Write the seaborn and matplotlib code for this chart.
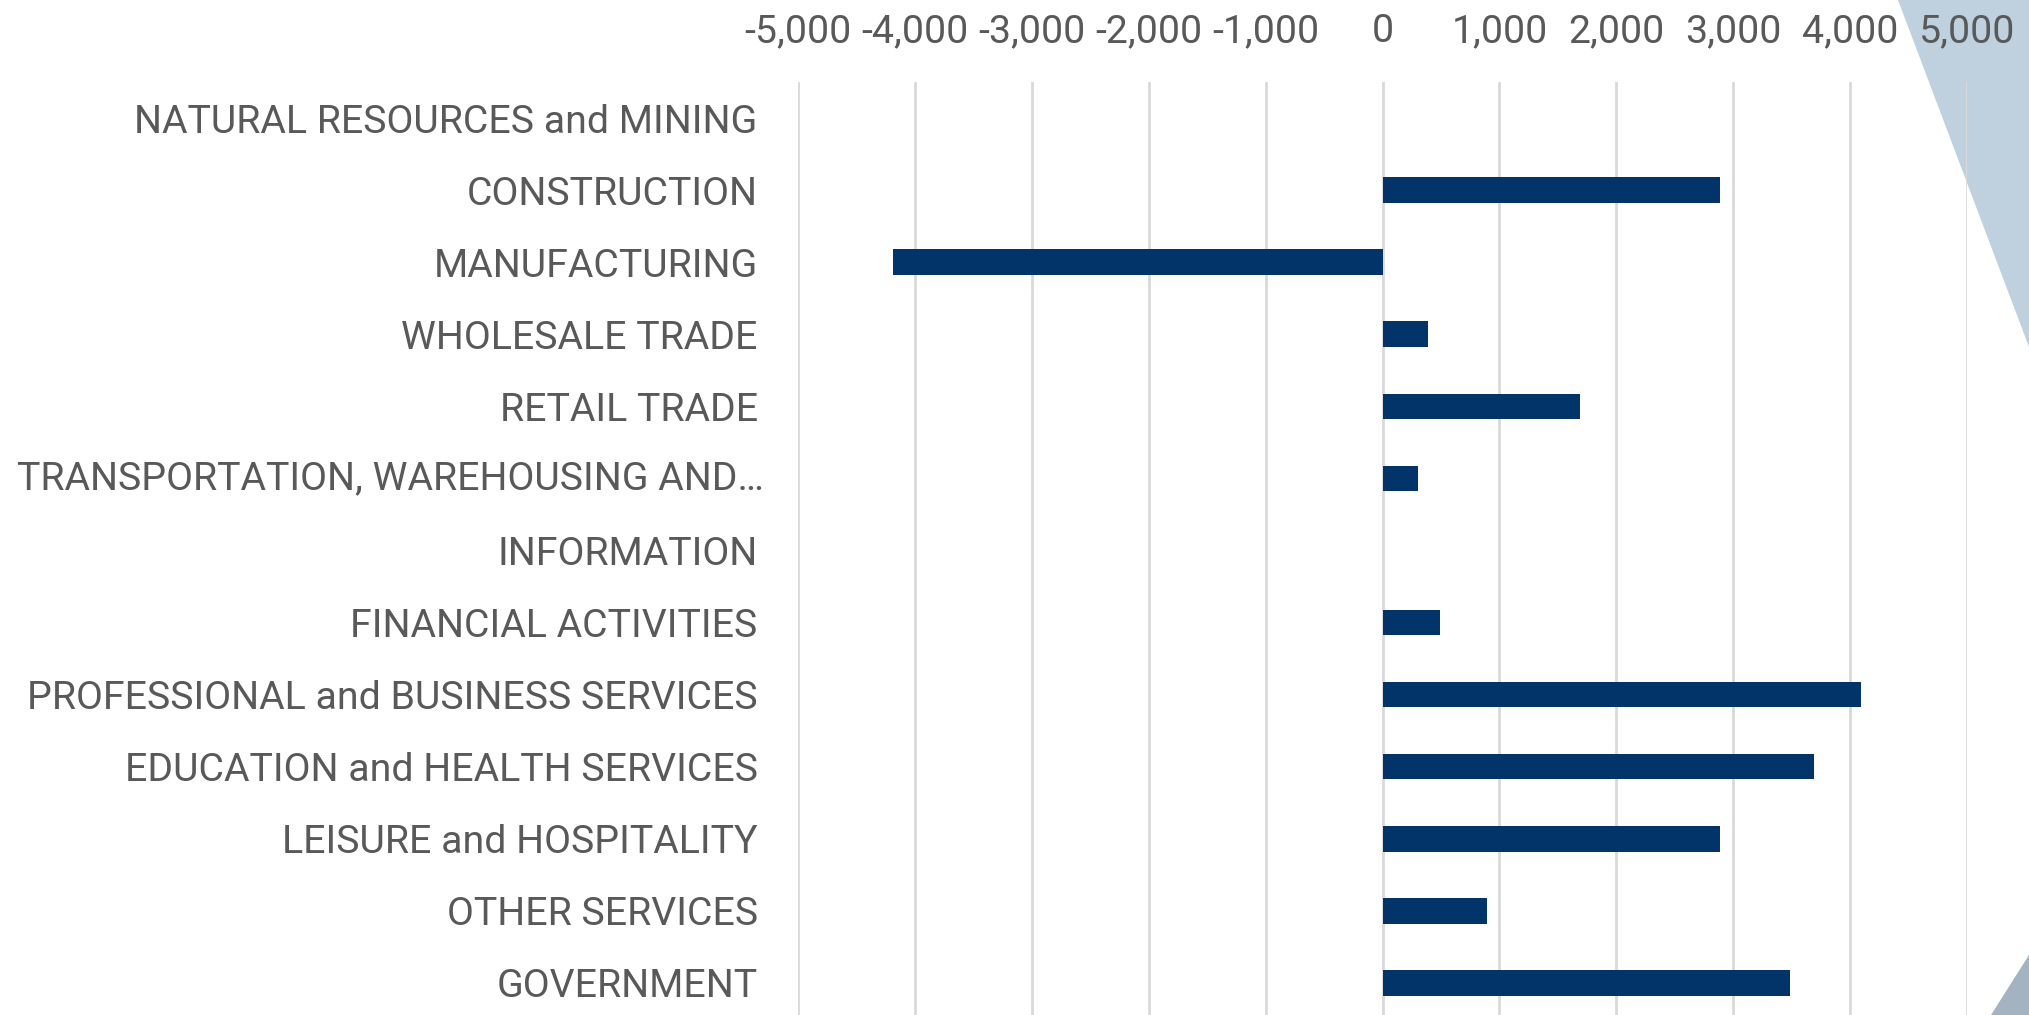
import matplotlib
matplotlib.use("Agg")
from matplotlib import pyplot as plt
from matplotlib.patches import Polygon
from matplotlib.ticker import FuncFormatter
import seaborn as sns

# employment change by sector
sectors = ['NATURAL RESOURCES and MINING', 'CONSTRUCTION', 'MANUFACTURING',
           'WHOLESALE TRADE', 'RETAIL TRADE', 'TRANSPORTATION, WAREHOUSING AND…',
           'INFORMATION', 'FINANCIAL ACTIVITIES', 'PROFESSIONAL and BUSINESS SERVICES',
           'EDUCATION and HEALTH SERVICES', 'LEISURE and HOSPITALITY',
           'OTHER SERVICES', 'GOVERNMENT']
change = [0, 2890, -4190, 390, 1690, 300, 0, 490, 4090, 3690, 2890, 895, 3490]
xticks = [-5000, -4000, -3000, -2000, -1000, 0, 1000, 2000, 3000, 4000, 5000]

sns.set_style('white')
plt.rcParams['font.family'] = ['Roboto', 'DejaVu Sans']
fsize = 28.3

fig = plt.figure(figsize=(20.29, 10.15), dpi=100)
fig.patch.set_facecolor('white')

# decorative corner triangles (behind the chart)
fig.patches.append(Polygon([(1898 / 2029, 1), (1, 1), (1, 1 - 347 / 1015)],
                           closed=True, transform=fig.transFigure,
                           facecolor='#BFD1DF', edgecolor='none', zorder=-5))
fig.patches.append(Polygon([(1991 / 2029, 0), (1, 60 / 1015), (1, 0)],
                           closed=True, transform=fig.transFigure,
                           facecolor='#A3B3C2', edgecolor='none', zorder=-5))

ax = fig.add_axes([798 / 2029, -0.0039, (1967 - 798) / 2029, 0.9231])
ax.patch.set_alpha(0)

sns.barplot(x=change, y=sectors, orient='h', color='#02346A', width=0.355,
            linewidth=0, saturation=1, ax=ax)

ax.set_xlim(-5000, 5000)
ax.set_ylim(12.5, -0.5)
ax.set_xticks(xticks)
ax.xaxis.set_major_formatter(FuncFormatter(lambda v, p: f'{int(v):,}'))
ax.xaxis.tick_top()
ax.tick_params(axis='x', length=0, pad=23, labelsize=fsize, labelcolor='#595959')
ax.tick_params(axis='y', length=0, pad=29, labelsize=fsize, labelcolor='#595959')
ax.grid(axis='x', color='#D9D9D9', linewidth=2)
ax.set_axisbelow(True)
ax.set_xlabel('')
ax.set_ylabel('')
for s in ax.spines.values():
    s.set_visible(False)

# the long truncated label sits left-aligned in the reference
labels = [t.get_text() for t in ax.get_yticklabels()]
ax.text(17 / 1169 - 798 / 1169, 5, labels[5], transform=ax.get_yaxis_transform(),
        ha='left', va='center', fontsize=fsize, color='#595959')
labels[5] = ''
ax.set_yticks(range(len(sectors)))
ax.set_yticklabels(labels)

fig.savefig('out.png', dpi=100)
